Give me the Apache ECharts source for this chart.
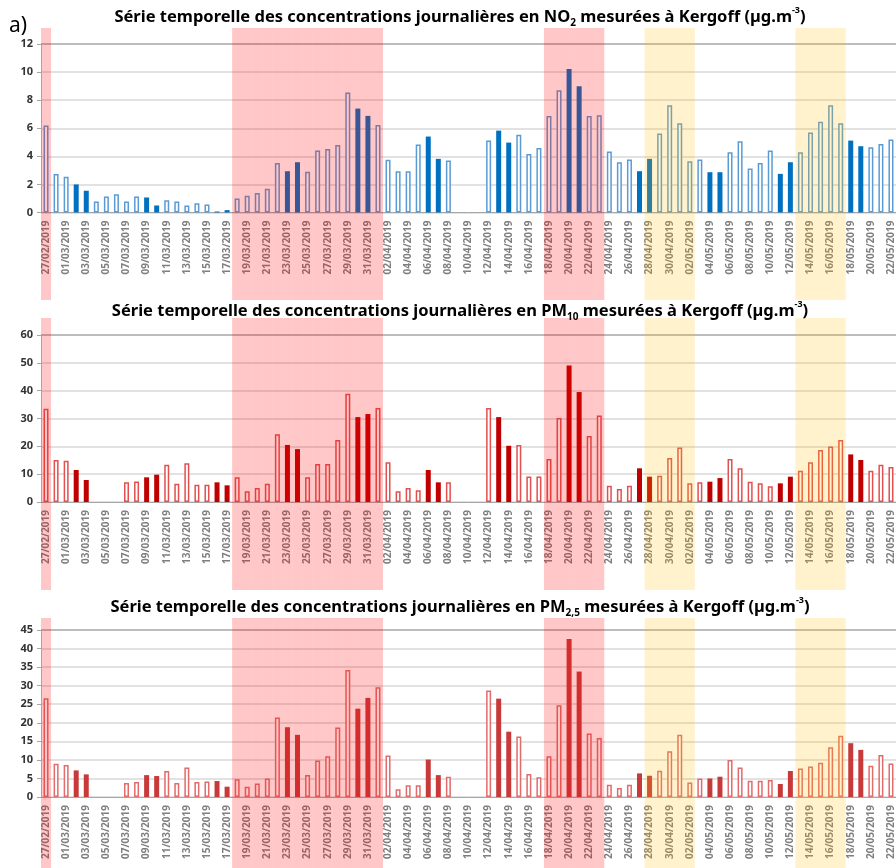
<!DOCTYPE html>
<html>
<head>
<meta charset="utf-8">
<script src="https://cdn.jsdelivr.net/npm/echarts@6/dist/echarts.min.js"></script>
<style>
  html, body { margin: 0; padding: 0; background: #fff; }
  #chart { width: 896px; height: 868px; }
</style>
</head>
<body>
<div id="chart"></div>
<script>
// days shown on the x axis
var dates = [
  '27/02/2019', '28/02/2019',
  '01/03/2019', '02/03/2019', '03/03/2019', '04/03/2019', '05/03/2019', '06/03/2019', '07/03/2019',
  '08/03/2019', '09/03/2019', '10/03/2019', '11/03/2019', '12/03/2019', '13/03/2019', '14/03/2019',
  '15/03/2019', '16/03/2019', '17/03/2019', '18/03/2019', '19/03/2019', '20/03/2019', '21/03/2019',
  '22/03/2019', '23/03/2019', '24/03/2019', '25/03/2019', '26/03/2019', '27/03/2019', '28/03/2019',
  '29/03/2019', '30/03/2019', '31/03/2019',
  '01/04/2019', '02/04/2019', '03/04/2019', '04/04/2019', '05/04/2019', '06/04/2019', '07/04/2019',
  '08/04/2019', '09/04/2019', '10/04/2019', '11/04/2019', '12/04/2019', '13/04/2019', '14/04/2019',
  '15/04/2019', '16/04/2019', '17/04/2019', '18/04/2019', '19/04/2019', '20/04/2019', '21/04/2019',
  '22/04/2019', '23/04/2019', '24/04/2019', '25/04/2019', '26/04/2019', '27/04/2019', '28/04/2019',
  '29/04/2019', '30/04/2019',
  '01/05/2019', '02/05/2019', '03/05/2019', '04/05/2019', '05/05/2019', '06/05/2019', '07/05/2019',
  '08/05/2019', '09/05/2019', '10/05/2019', '11/05/2019', '12/05/2019', '13/05/2019', '14/05/2019',
  '15/05/2019', '16/05/2019', '17/05/2019', '18/05/2019', '19/05/2019', '20/05/2019', '21/05/2019',
  '22/05/2019'
];

var no2 = [
  6.2, 2.75, 2.55, 2.0, 1.55, 0.78, 1.14, 1.3, 0.78, 1.14, 1.07, 0.5, 0.88, 0.78, 0.5, 0.66, 0.57, 0.07, 0.17,
  1.0, 1.19, 1.38, 1.7, 3.53, 2.94, 3.58, 2.9, 4.41, 4.53, 4.81, 8.54, 7.4, 6.88, 6.24,
  3.75, 2.94, 2.94, 4.84, 5.41, 3.82, 3.7, null, null, null, 5.12, 5.83, 4.98, 5.53, 4.17, 4.6,
  6.88, 8.7, 10.22, 8.99, 6.88, 6.92, 4.34, 3.58, 3.77, 2.94, 3.82, 5.62, 7.64, 6.36, 3.65,
  3.77, 2.87, 2.87, 4.29, 5.07, 3.13, 3.53, 4.41, 2.75, 3.58, 4.29, 5.69, 6.47, 7.64, 6.36,
  5.12, 4.72, 4.65, 4.88, 5.19
];

var pm10 = [
  33.5, 15.1, 14.85, 11.5, 7.9, null, null, null, 7.07, 7.4, 8.86, 9.82, 13.4, 6.6, 13.9, 6.2, 6.2, 7.07, 5.99,
  8.86, 3.83, 5.03, 6.59, 24.3, 20.5, 19.0, 8.86, 13.65, 13.65, 22.3, 38.9, 30.5, 31.6, 33.8,
  14.25, 3.83, 5.03, 4.19, 11.5, 7.07, 7.07, null, null, null, 33.8, 30.5, 20.2, 20.5, 9.2, 9.2,
  15.45, 30.2, 49.0, 39.5, 23.7, 31.1, 5.87, 4.67, 5.87, 12.1, 9.1, 9.46, 15.8, 19.6, 6.7,
  7.07, 7.3, 8.6, 15.45, 12.1, 7.3, 6.7, 5.63, 6.7, 9.1, 11.26, 14.25, 18.7, 19.9, 22.3,
  17.1, 15.1, 11.26, 13.4, 12.6
];

var pm25 = [
  26.6, 8.96, 8.6, 7.17, 6.1, null, null, null, 3.76, 4.03, 5.9, 5.65, 7.0, 3.76, 7.97, 4.03, 4.2, 4.3, 2.78,
  4.75, 2.78, 3.67, 5.0, 21.4, 18.8, 16.75, 5.9, 9.86, 11.0, 18.7, 34.2, 23.8, 26.7, 29.6,
  11.2, 2.06, 3.14, 3.14, 10.1, 5.9, 5.47, null, null, null, 28.7, 26.5, 17.6, 16.3, 6.2, 5.3,
  11.0, 24.7, 42.6, 33.8, 17.1, 15.9, 3.3, 2.4, 3.3, 6.36, 5.73, 7.08, 12.3, 16.75, 3.94,
  5.0, 5.0, 5.47, 9.95, 7.97, 4.39, 4.39, 4.57, 3.5, 7.0, 7.7, 8.24, 9.23, 13.4, 16.5,
  14.5, 12.7, 8.4, 11.3, 9.05
];

// shaded periods (first day, last day)
var pinkPeriods = [['27/02/2019', '27/02/2019'], ['18/03/2019', '01/04/2019'], ['18/04/2019', '23/04/2019']];
var yellowPeriods = [['28/04/2019', '02/05/2019'], ['13/05/2019', '17/05/2019']];

var yMax = [12, 60, 45];
var yStep = [2, 10, 5];

var titles = [
  '{b|Série temporelle des concentrations journalières en NO}{s|2}{b| mesurées à Kergoff (µg.m}{p|-3}{b|)}',
  '{b|Série temporelle des concentrations journalières en PM}{s|10}{b| mesurées à Kergoff (µg.m}{p|-3}{b|)}',
  '{b|Série temporelle des concentrations journalières en PM}{s|2,5}{b| mesurées à Kergoff (µg.m}{p|-3}{b|)}'
];

var panels = [
  { data: no2, light: '#5b9bd5', dark: '#0070c0', top: 44, height: 168.5, bandTop: 28, bandHeight: 272, titleY: 6 },
  { data: pm10, light: '#e2504f', dark: '#c00000', top: 335, height: 167, bandTop: 318, bandHeight: 272, titleY: 300 },
  { data: pm25, light: '#e26b6b', dark: '#c83a3a', top: 630, height: 167, bandTop: 618, bandHeight: 250, titleY: 596 }
];

var FONT = 'Noto Sans';

function isWeekend(d) {
  var p = d.split('/');
  var day = new Date(+p[2], +p[1] - 1, +p[0]).getDay();
  return day === 0 || day === 6;
}

function inPeriods(d, periods) {
  var i = dates.indexOf(d);
  return periods.some(function (p) {
    return i >= dates.indexOf(p[0]) && i <= dates.indexOf(p[1]);
  });
}

var grids = [], xAxes = [], yAxes = [], series = [], titleOpts = [];

panels.forEach(function (pan, k) {
  var gi = k * 2;
  grids.push({ left: 41, right: 0, top: pan.top, height: pan.height });
  grids.push({ left: 41, right: 0, top: pan.bandTop, height: pan.bandHeight });

  var lines = [];
  for (var n = 0; n < yMax[k] / yStep[k]; n++) lines.push('#d9d9d9');
  lines.push('#a6a6a6');

  xAxes.push({
    type: 'category', gridIndex: gi, data: dates,
    axisLine: { lineStyle: { color: '#a6a6a6', width: 1 } },
    axisTick: { interval: 1, length: 4, lineStyle: { color: '#a6a6a6' } },
    axisLabel: {
      interval: 1, rotate: 90, margin: 8, color: '#7f7f7f',
      fontFamily: FONT, fontSize: 10, fontWeight: 'bold'
    }
  });
  xAxes.push({ type: 'category', gridIndex: gi + 1, data: dates, show: false });

  yAxes.push({
    type: 'value', gridIndex: gi, min: 0, max: yMax[k], interval: yStep[k],
    axisLine: { show: true, lineStyle: { color: '#bfbfbf' } },
    axisTick: { show: true, length: 4, lineStyle: { color: '#a6a6a6' } },
    axisLabel: { color: '#333333', fontFamily: FONT, fontSize: 11, fontWeight: 'bold', margin: 8 },
    splitLine: { lineStyle: { color: lines, width: 1.5 } }
  });
  yAxes.push({ type: 'value', gridIndex: gi + 1, min: 0, max: 1, show: false });

  series.push({
    type: 'bar', xAxisIndex: gi, yAxisIndex: gi, barWidth: 5, silent: true,
    data: pan.data.map(function (v, i) {
      if (v === null) return '-';
      return isWeekend(dates[i])
        ? { value: v, itemStyle: { color: pan.dark } }
        : { value: v, itemStyle: { color: '#ffffff', borderColor: pan.light, borderWidth: 1.5 } };
    })
  });

  series.push({
    type: 'bar', xAxisIndex: gi + 1, yAxisIndex: gi + 1, barCategoryGap: '0%', z: 5, silent: true,
    data: dates.map(function (d) {
      if (inPeriods(d, pinkPeriods)) return { value: 1, itemStyle: { color: 'rgba(255,0,0,0.22)' } };
      if (inPeriods(d, yellowPeriods)) return { value: 1, itemStyle: { color: 'rgba(255,192,0,0.2)' } };
      return '-';
    })
  });

  titleOpts.push({
    text: titles[k], left: 460, top: pan.titleY, textAlign: 'center', padding: 0,
    textStyle: {
      rich: {
        b: { fontFamily: FONT, fontSize: 16.5, fontWeight: 'bold', color: '#000', lineHeight: 22 },
        s: { fontFamily: FONT, fontSize: 10, fontWeight: 'bold', color: '#000', lineHeight: 10, verticalAlign: 'bottom' },
        p: { fontFamily: FONT, fontSize: 9, fontWeight: 'bold', color: '#000', lineHeight: 12, verticalAlign: 'top' }
      }
    }
  });
});

var chart = echarts.init(document.getElementById('chart'));
chart.setOption({
  animation: false,
  backgroundColor: '#ffffff',
  title: titleOpts,
  grid: grids,
  xAxis: xAxes,
  yAxis: yAxes,
  series: series,
  graphic: [{
    type: 'text', left: 9, top: 16,
    style: { text: 'a)', fontFamily: FONT, fontSize: 21, fill: '#000' }
  }]
});
</script>
</body>
</html>
